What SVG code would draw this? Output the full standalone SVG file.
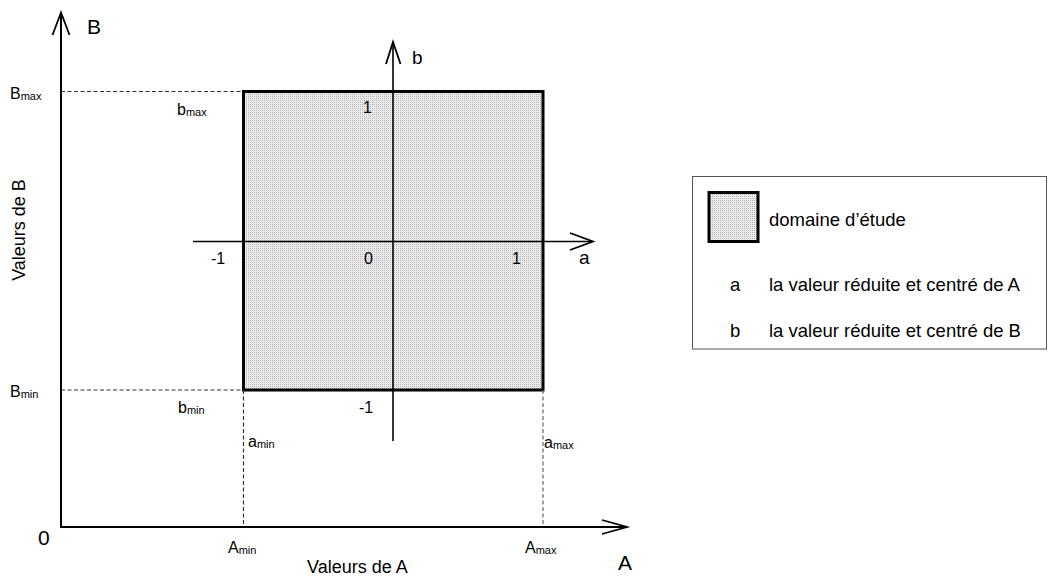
<svg xmlns="http://www.w3.org/2000/svg" width="1048" height="576" viewBox="0 0 1048 576">
  <style>
    text { font-family: "Liberation Sans", Arial, sans-serif; fill: #000; }
    .axis { stroke: #000; stroke-width: 2; fill: none; }
    .axis2 { stroke: #000; stroke-width: 1.6; fill: none; }
    .head { stroke: #000; stroke-width: 1.8; fill: none; stroke-linejoin: miter; }
    .dash { stroke: #333; stroke-width: 1.2; stroke-dasharray: 4 2.5; fill: none; }
    .lbl { font-size: 16px; }
    .big { font-size: 21px; }
    .sub { font-size: 11px; }
    .leg { font-size: 18.5px; }
    .zone { fill: url(#stipple); stroke: #000; stroke-width: 3; }
  </style>
  <defs>
    <pattern id="stipple" width="2" height="2" patternUnits="userSpaceOnUse">
      <rect width="2" height="2" fill="#e9e9e9"/>
      <rect width="1" height="1" fill="#b9b9b9"/>
    </pattern>
  </defs>
  <rect width="1048" height="576" fill="#fff"/>

  <!-- study domain -->
  <g id="domaine">
    <rect class="zone" x="243.5" y="91.5" width="299.5" height="298.5"/>
  </g>

  <g id="connectors">
    <!-- guide lines to the A/B axes -->
    <line class="dash" x1="61" y1="91.5" x2="243" y2="91.5"/>
    <line class="dash" x1="61" y1="390" x2="243" y2="390"/>
    <line class="dash" x1="243.5" y1="390" x2="243.5" y2="527"/>
    <line class="dash" x1="543" y1="390" x2="543" y2="527" style="stroke:#666"/>

    <!-- A / B axes -->
    <line class="axis" x1="61" y1="13" x2="61" y2="528"/>
    <line class="axis" x1="60" y1="527" x2="626" y2="527"/>
    <polyline class="head" points="52.5,35 61,12.5 69.5,35"/>
    <polyline class="head" points="602,520 627,527 602,534"/>

    <!-- reduced a / b axes -->
    <line class="axis2" x1="393" y1="42" x2="393" y2="441"/>
    <line class="axis2" x1="193" y1="241.5" x2="592" y2="241.5"/>
    <polyline class="head" points="386,64 393,42 400.5,64"/>
    <polyline class="head" points="570,233 593,241.5 570,250"/>
  </g>

  <g id="labels-AB">
    <text class="big" x="87" y="34">B</text>
    <text class="big" x="618" y="570">A</text>
    <text class="big" x="38" y="545">0</text>
    <text class="lbl" x="10" y="99">B<tspan class="sub" dy="1">max</tspan></text>
    <text class="lbl" x="10" y="397">B<tspan class="sub" dy="1">min</tspan></text>
    <text class="lbl" x="228" y="553">A<tspan class="sub" dy="1">min</tspan></text>
    <text class="lbl" x="525" y="553">A<tspan class="sub" dy="1">max</tspan></text>
    <text class="lbl" x="177" y="115">b<tspan class="sub" dy="1">max</tspan></text>
    <text class="lbl" x="178" y="413">b<tspan class="sub" dy="1">min</tspan></text>
    <text class="lbl" x="248" y="447">a<tspan class="sub" dy="1">min</tspan></text>
    <text class="lbl" x="544" y="448">a<tspan class="sub" dy="1">max</tspan></text>
    <text style="font-size:18px" x="307" y="573">Valeurs de A</text>
    <text style="font-size:18px" transform="translate(25,230) rotate(-90)" text-anchor="middle">Valeurs de B</text>
  </g>

  <g id="labels-ab">
    <text class="lbl" x="211" y="264">-1</text>
    <text class="lbl" x="364" y="264">0</text>
    <text class="lbl" x="512" y="264">1</text>
    <text style="font-size:19px" x="579" y="264">a</text>
    <text style="font-size:19px" x="412" y="64">b</text>
    <text class="lbl" x="363" y="113">1</text>
    <text class="lbl" x="359" y="413">-1</text>
  </g>

  <!-- legend -->
  <g id="legende">
    <rect x="692.5" y="176.5" width="354" height="172.5" fill="#fff" stroke="#555" stroke-width="1"/>
    <rect class="zone" x="709" y="192.5" width="49" height="49"/>
    <text class="leg" x="769" y="226">domaine d’étude</text>
    <text class="leg" x="730" y="291">a</text>
    <text class="leg" x="769" y="291">la valeur réduite et centré de A</text>
    <text class="leg" x="730" y="337">b</text>
    <text class="leg" x="769" y="337">la valeur réduite et centré de B</text>
  </g>
</svg>
